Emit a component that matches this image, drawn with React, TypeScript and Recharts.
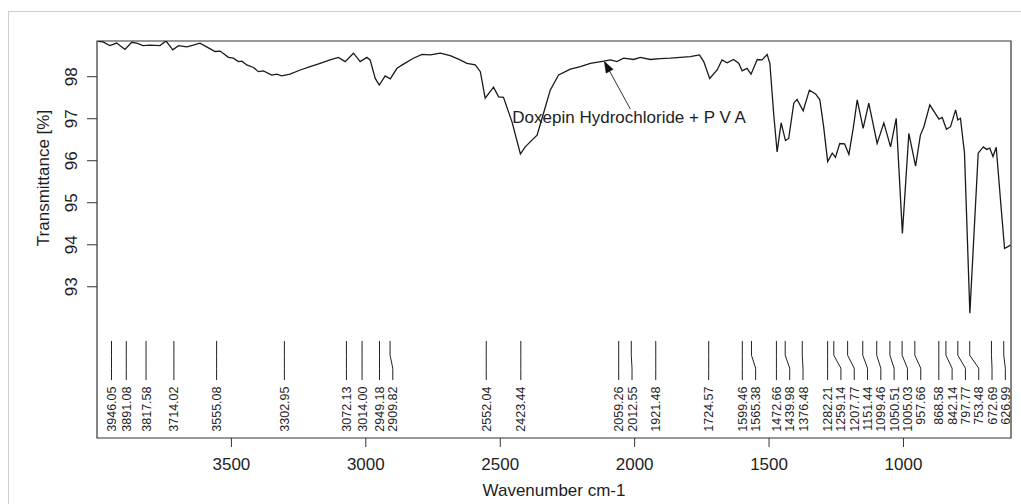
import React from 'react';
import { LineChart, Line, XAxis, YAxis, ReferenceArea } from 'recharts';

// ---- data -------------------------------------------------------------
const wavenumbers = [
  3996, 3978, 3952, 3927, 3896, 3871, 3852, 3829, 3803, 3766,
  3743, 3718, 3697, 3666, 3642, 3617, 3592, 3561, 3542, 3511,
  3493, 3474, 3461, 3443, 3418, 3400, 3381, 3350, 3331, 3313,
  3282, 3244, 3207, 3170, 3133, 3102, 3077, 3046, 3021, 2996,
  2984, 2965, 2950, 2928, 2909, 2884, 2860, 2823, 2791, 2760,
  2723, 2686, 2649, 2624, 2593, 2574, 2556, 2525, 2506, 2488,
  2456, 2425, 2407, 2382, 2363, 2339, 2314, 2283, 2239, 2202,
  2165, 2115, 2090, 2066, 2041, 2004, 1979, 1942, 1904, 1867,
  1830, 1793, 1759, 1743, 1721, 1693, 1675, 1656, 1632, 1613,
  1600, 1582, 1567, 1544, 1526, 1507, 1497, 1483, 1470, 1455,
  1439, 1427, 1408, 1396, 1373, 1350, 1327, 1311, 1297, 1282,
  1265, 1253, 1237, 1219, 1203, 1187, 1172, 1150, 1129, 1098,
  1073, 1048, 1027, 1004, 980, 955, 937, 924, 902, 868,
  856, 840, 825, 806, 798, 788, 773, 753, 722, 703,
  691, 679, 667, 655, 639, 624, 602,
];

const transmittance = [
  98.84, 98.83, 98.74, 98.80, 98.65, 98.82, 98.80, 98.74, 98.75, 98.74,
  98.85, 98.64, 98.74, 98.71, 98.75, 98.80, 98.71, 98.60, 98.61, 98.46,
  98.44, 98.36, 98.37, 98.28, 98.22, 98.12, 98.14, 98.04, 98.06, 98.02,
  98.06, 98.16, 98.24, 98.32, 98.40, 98.46, 98.36, 98.56, 98.36, 98.46,
  98.40, 97.96, 97.80, 98.02, 97.95, 98.20, 98.30, 98.44, 98.53, 98.52,
  98.56, 98.50, 98.40, 98.32, 98.28, 98.12, 97.49, 97.75, 97.52, 97.51,
  96.92, 96.16, 96.33, 96.49, 96.61, 97.13, 97.68, 98.04, 98.18, 98.24,
  98.32, 98.37, 98.40, 98.36, 98.44, 98.41, 98.46, 98.41, 98.43, 98.44,
  98.46, 98.48, 98.52, 98.36, 97.96, 98.16, 98.40, 98.33, 98.41, 98.32,
  98.14, 98.20, 98.06, 98.41, 98.40, 98.53, 98.32, 97.13, 96.21, 96.90,
  96.48, 96.53, 97.37, 97.46, 97.19, 97.68, 97.59, 97.45, 96.81, 95.98,
  96.18, 96.08, 96.41, 96.40, 96.15, 96.77, 97.45, 96.77, 97.37, 96.41,
  96.90, 96.33, 97.01, 94.27, 96.65, 95.87, 96.61, 96.81, 97.33, 96.99,
  97.03, 96.75, 96.81, 97.21, 96.97, 97.01, 96.18, 92.37, 96.18, 96.33,
  96.27, 96.30, 96.10, 96.32, 95.06, 93.91, 93.99,
];

const peakPositions = [
  3946.05, 3891.08, 3817.58, 3714.02, 3555.08, 3302.95, 3072.13, 3014.0,
  2949.18, 2909.82, 2552.04, 2423.44, 2059.26, 2012.55, 1921.48, 1724.57,
  1599.46, 1565.38, 1472.66, 1439.98, 1376.48, 1282.21, 1259.14, 1207.77,
  1151.44, 1099.46, 1050.51, 1005.03, 957.66, 868.58, 842.14, 797.77,
  753.48, 672.69, 626.99,
];

const xTicks = [3500, 3000, 2500, 2000, 1500, 1000];
const yTicks = [93, 94, 95, 96, 97, 98];
const xDomain = [600, 4000];
const yDomain = [89.4, 98.85];

const xTitle = 'Wavenumber cm-1';
const yTitle = 'Transmittance [%]';
const annotationText = 'Doxepin Hydrochloride + P V A';
const annotationTail = { w: 2016, t: 97.23 };
const annotationTip = { w: 2112.7, t: 98.36 };

// ---- derived ----------------------------------------------------------
const spectrum = wavenumbers.map((w, i) => ({ w, t: transmittance[i] }));

const LABEL_GAP = 49.5; // minimum spacing between peak labels (wavenumber units)
const labelPositions: number[] = [];
peakPositions.forEach((w, i) => {
  labelPositions.push(i === 0 ? w : Math.min(w, labelPositions[i - 1] - LABEL_GAP));
});

// vertical levels of the peak marker leader lines (data units)
const markerLevels = [91.71, 91.37, 91.06, 90.78];

const peakLines = peakPositions.map((w, i) => [
  { w, t: markerLevels[0] },
  { w, t: markerLevels[1] },
  { w: labelPositions[i], t: markerLevels[2] },
  { w: labelPositions[i], t: markerLevels[3] },
]);

const FONT = '"Liberation Sans", Arial, Helvetica, sans-serif';
const INK = '#1e1e1e';

const YTick = (props: any) => {
  const { x, y, payload } = props;
  return (
    <text
      x={x}
      y={y}
      transform={`rotate(-90, ${x}, ${y})`}
      textAnchor="middle"
      fontSize={17}
      fontFamily={FONT}
      fill={INK}
    >
      {payload.value}
    </text>
  );
};

const YTitle = (props: any) => {
  const vb = props.viewBox || { x: 37, y: 41 };
  const x = vb.x + 12;
  const y = vb.y + 137;
  return (
    <text
      x={x}
      y={y}
      transform={`rotate(-90, ${x}, ${y})`}
      textAnchor="middle"
      fontSize={17}
      fontFamily={FONT}
      fill={INK}
    >
      {yTitle}
    </text>
  );
};

const makePeakDot = (label: string) => (p: any) => {
  if (p.index !== 3) return <g key={`d-${p.index}`} />;
  const x = p.cx;
  const y = p.cy + 6.5;
  return (
    <text
      key={`d-${p.index}`}
      x={x}
      y={y}
      dy="0.36em"
      transform={`rotate(-90, ${x}, ${y})`}
      textAnchor="end"
      fontSize={12.5}
      fontFamily={FONT}
      fill={INK}
    >
      {label}
    </text>
  );
};

const ArrowDot = (p: any) => {
  const { cx, cy, index, points } = p;
  if (index === 0) {
    return (
      <text
        key="arrow-text"
        x={cx - 118}
        y={cy + 14}
        textAnchor="start"
        fontSize={17}
        fontFamily={FONT}
        fill={INK}
      >
        {annotationText}
      </text>
    );
  }
  let ux = 0.494;
  let uy = 0.869;
  if (points && points[0]) {
    const dx = points[0].x - cx;
    const dy = points[0].y - cy;
    const len = Math.sqrt(dx * dx + dy * dy) || 1;
    ux = dx / len;
    uy = dy / len;
  }
  const L = 11;
  const W = 4;
  const bx = cx + ux * L;
  const by = cy + uy * L;
  const pts = `${cx},${cy} ${bx - uy * W},${by + ux * W} ${bx + uy * W},${by - ux * W}`;
  return <polygon key="arrow-head" points={pts} fill="#111" stroke="#111" strokeWidth={0.5} />;
};

export default function App() {
  return (
    <div style={{ position: 'absolute', left: 0, top: 0, width: 1021, height: 504, background: '#fff' }}>
      <div
        style={{
          position: 'absolute',
          left: 8,
          top: 11,
          width: 1013,
          height: 493,
          borderTop: '1px solid #cfcfcf',
          borderLeft: '1px solid #cfcfcf',
          boxSizing: 'border-box',
        }}
      />
      <div style={{ position: 'absolute', left: 0, top: 0 }}>
        <LineChart
          width={1021}
          height={504}
          margin={{ top: 41, right: 10, left: 37, bottom: 0 }}
        >
          <XAxis
            type="number"
            dataKey="w"
            domain={xDomain}
            reversed
            allowDataOverflow
            ticks={xTicks}
            height={66}
            axisLine={false}
            tickLine={{ stroke: '#333' }}
            tickSize={9}
            tickMargin={11}
            tick={{ fill: INK, fontSize: 17, fontFamily: FONT }}
            label={{
              value: xTitle,
              position: 'insideBottom',
              offset: 8,
              fill: INK,
              fontSize: 17,
              fontFamily: FONT,
            }}
          />
          <YAxis
            type="number"
            domain={yDomain}
            allowDataOverflow
            ticks={yTicks}
            width={60}
            axisLine={false}
            tickLine={{ stroke: '#333' }}
            tickSize={10}
            tickMargin={10}
            tick={<YTick />}
            label={{ content: <YTitle /> }}
          />
          <ReferenceArea
            x1={xDomain[0]}
            x2={xDomain[1]}
            y1={yDomain[0]}
            y2={yDomain[1]}
            fill="none"
            fillOpacity={0}
            stroke="#333"
            strokeWidth={1.2}
            ifOverflow="visible"
          />
          <Line
            data={spectrum}
            dataKey="t"
            type="linear"
            stroke="#1a1a1a"
            strokeWidth={1.3}
            dot={false}
            activeDot={false}
            isAnimationActive={false}
          />
          {peakLines.map((pts, i) => (
            <Line
              key={`peak-${i}`}
              data={pts}
              dataKey="t"
              type="linear"
              stroke="#222"
              strokeWidth={1}
              dot={makePeakDot(peakPositions[i].toFixed(2))}
              activeDot={false}
              isAnimationActive={false}
            />
          ))}
          <Line
            data={[annotationTail, annotationTip]}
            dataKey="t"
            type="linear"
            stroke="#333"
            strokeWidth={1}
            dot={ArrowDot}
            activeDot={false}
            isAnimationActive={false}
          />
        </LineChart>
      </div>
    </div>
  );
}
